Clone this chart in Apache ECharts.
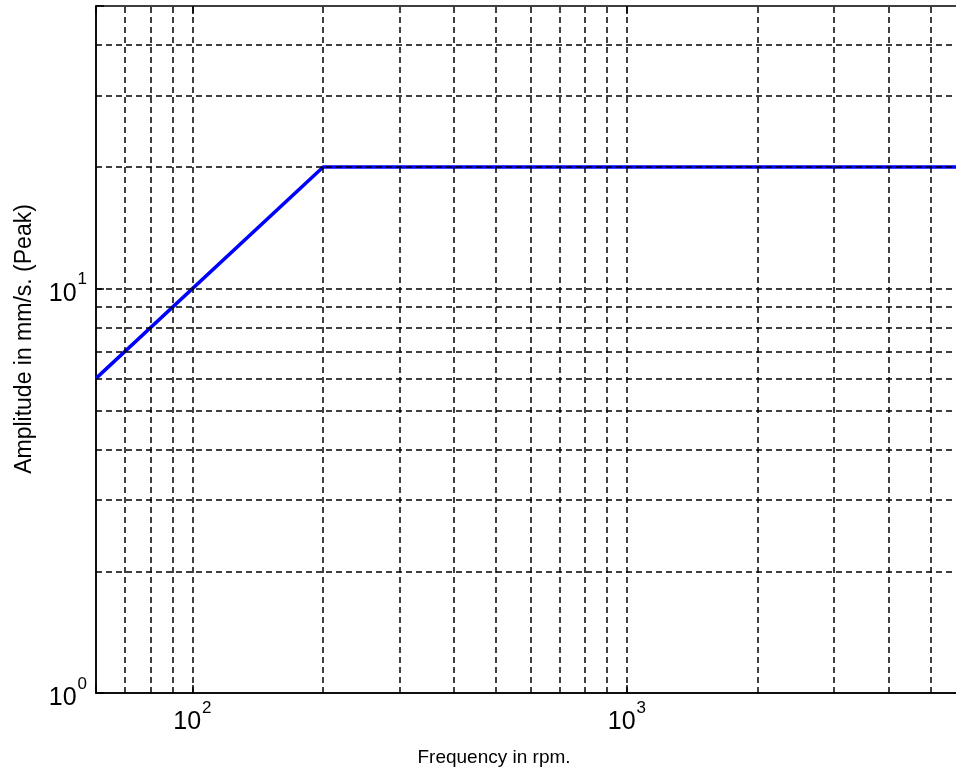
<!DOCTYPE html>
<html lang="en">
<head>
    <meta charset="UTF-8">
    <title>Amplitude vs Frequency</title>
    <script src="https://cdn.jsdelivr.net/npm/echarts@6/dist/echarts.min.js"></script>
    <style>
        html, body {margin:0; padding:0; background:#fff}
    </style>
</head>
<body>
<div id="main" style="width: 956px; height:780px;"></div>
<script>
    // curve points (rpm, mm/s)
    var freq = [60, 200, 6000];
    var amp = [6, 20, 20];
    // grid lines
    var xGrid = [70, 80, 90, 100, 200, 300, 400, 500, 600, 700, 800, 900, 1000, 2000, 3000, 4000, 5000];
    var yGrid = [2, 3, 4, 5, 6, 7, 8, 9, 10, 20, 30, 40];

    var font = 'Liberation Sans';

    function powLabel(v) {
        var e = Math.log10(v);
        if (Math.abs(e - Math.round(e)) > 1e-6) return '';
        return '{b|10}{s|' + Math.round(e) + '}';
    }
    var richLab = {
        b: {fontSize: 25, fontFamily: font, color: '#000', verticalAlign: 'bottom'},
        s: {fontSize: 17, fontFamily: font, color: '#000', verticalAlign: 'bottom', padding: [0, 0, 18, 1]}
    };

    var gridData = [];
    for (var i = 0; i < xGrid.length; i++) gridData.push({xAxis: xGrid[i]});
    for (var j = 0; j < yGrid.length; j++) gridData.push({yAxis: yGrid[j]});

    var lineData = [];
    for (var k = 0; k < freq.length; k++) lineData.push([freq[k], amp[k]]);

    var chart = echarts.init(document.getElementById('main'));
    chart.setOption({
        animation: false,
        grid: {
            left: 96, top: 6, width: 869, height: 687,
            outerBoundsMode: 'none', containLabel: false,
            show: true, borderColor: '#000', borderWidth: 1.5, backgroundColor: 'transparent'
        },
        xAxis: [{
            type: 'log', logBase: 10, min: 60, max: 6000,
            axisLine: {lineStyle: {color: '#000', width: 1.5}},
            axisTick: {inside: true, length: 8, lineStyle: {color: '#000', width: 1.5}},
            axisLabel: {formatter: powLabel, rich: richLab, margin: 7, showMinLabel: true, showMaxLabel: true},
            splitLine: {show: false}
        }, {
            type: 'log', logBase: 10, min: 60, max: 6000, position: 'top',
            axisLine: {show: false},
            axisTick: {inside: true, length: 8, lineStyle: {color: '#000', width: 1.5}},
            axisLabel: {show: false},
            splitLine: {show: false}
        }],
        yAxis: [{
            type: 'log', logBase: 10, min: 1, max: 50,
            axisLine: {lineStyle: {color: '#000', width: 1.5}},
            axisTick: {inside: true, length: 8, lineStyle: {color: '#000', width: 1.5}},
            axisLabel: {formatter: powLabel, rich: richLab, margin: 9},
            splitLine: {show: false}
        }],
        graphic: [
            {type: 'text', x: 494, y: 758, style: {text: 'Frequency in rpm.', font: '19px "Liberation Sans"', fill: '#000', align: 'center', verticalAlign: 'middle'}},
            {type: 'text', x: 25, y: 339, rotation: Math.PI / 2, style: {text: 'Amplitude in mm/s. (Peak)', font: '23px "Liberation Sans"', fill: '#000', align: 'center', verticalAlign: 'middle'}}
        ],
        series: [{
            type: 'line',
            data: lineData,
            showSymbol: false,
            lineStyle: {color: '#0000ff', width: 3.5},
            itemStyle: {color: '#0000ff'},
            z: 2,
            markLine: {
                silent: true,
                symbol: 'none',
                label: {show: false},
                lineStyle: {color: '#000', width: 1.5, type: [6, 4]},
                z: 3,
                data: gridData
            }
        }]
    });
</script>
</body>
</html>
